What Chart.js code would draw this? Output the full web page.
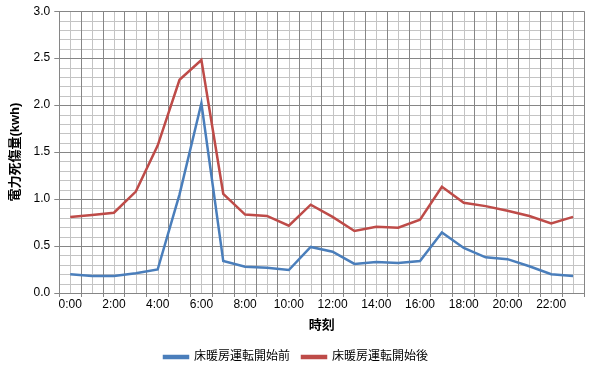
<!DOCTYPE html>
<html><head><meta charset="utf-8">
<script src="https://cdn.jsdelivr.net/npm/chart.js@4/dist/chart.umd.min.js"></script>
<style>html,body{margin:0;padding:0;background:#fff}#wrap{width:593px;height:375px}</style>
</head><body><div id="wrap"><canvas id="c" width="593" height="375"></canvas></div>
<script>
const hours = ["0:00","1:00","2:00","3:00","4:00","5:00","6:00","7:00","8:00","9:00","10:00","11:00","12:00","13:00","14:00","15:00","16:00","17:00","18:00","19:00","20:00","21:00","22:00","23:00"];
const before = [0.20,0.18,0.18,0.21,0.25,1.05,2.02,0.34,0.28,0.27,0.245,0.49,0.44,0.31,0.33,0.32,0.34,0.645,0.48,0.38,0.36,0.285,0.20,0.18];
const after  = [0.81,0.83,0.855,1.08,1.57,2.27,2.48,1.056,0.835,0.82,0.716,0.94,0.81,0.66,0.705,0.695,0.78,1.13,0.96,0.925,0.875,0.82,0.74,0.81];
const seriesNames = ["床暖房運転開始前","床暖房運転開始後"];
const yTitle = "電力死傷量(kwh)";
const xTitle = "時刻";

const FONT = "'Liberation Sans','Noto Sans CJK JP',sans-serif";

const minorGrid = {
  id: 'minorGrid',
  beforeDraw(chart) {
    const {ctx, chartArea: a, scales} = chart;
    const x = scales.x, y = scales.y;
    ctx.save();
    ctx.strokeStyle = '#c4c4c4';
    ctx.lineWidth = 1;
    ctx.beginPath();
    for (let i = 0; i < hours.length; i++) {
      const px = Math.round(x.getPixelForValue(i)) + 0.5;
      ctx.moveTo(px, a.top); ctx.lineTo(px, a.bottom);
    }
    for (let k = 1; k < 30; k++) {
      if (k % 5 === 0) continue;
      const py = Math.round(y.getPixelForValue(k / 10)) + 0.5;
      ctx.moveTo(a.left, py); ctx.lineTo(a.right, py);
    }
    ctx.stroke();
    ctx.restore();
  }
};

new Chart(document.getElementById('c'), {
  type: 'line',
  data: {
    labels: hours,
    datasets: [
      {label: seriesNames[0], data: before, borderColor: '#4a7ebb', backgroundColor: '#4a7ebb', borderWidth: 2.5, pointRadius: 0, tension: 0},
      {label: seriesNames[1], data: after, borderColor: '#be4b48', backgroundColor: '#be4b48', borderWidth: 2.5, pointRadius: 0, tension: 0}
    ]
  },
  options: {
    responsive: false,
    animation: false,
    layout: {padding: {left: 8, right: 9, top: 0, bottom: 2}},
    plugins: {
      legend: {
        position: 'bottom',
        labels: {boxWidth: 24, boxHeight: 2, padding: 12, color: '#000', font: {family: FONT, size: 12}}
      },
      tooltip: {enabled: false}
    },
    scales: {
      x: {
        offset: true,
        grid: {offset: true, color: '#868686', lineWidth: 1, tickLength: 4, drawTicks: true},
        border: {color: '#868686'},
        ticks: {autoSkip: false, maxRotation: 0, padding: 0, color: '#000', font: {family: FONT, size: 12},
          callback: (v, i) => (i % 2 === 0 ? hours[i] : '')},
        title: {display: true, text: xTitle, color: '#000', font: {family: FONT, size: 13, weight: 'bold'}, padding: {top: 6, bottom: 6}}
      },
      y: {
        min: 0, max: 3,
        grid: {color: '#868686', lineWidth: 1, tickLength: 5},
        border: {color: '#868686'},
        ticks: {stepSize: 0.5, padding: 4, color: '#000', font: {family: FONT, size: 12},
          callback: v => v.toFixed(1)},
        title: {display: true, text: yTitle, color: '#000', font: {family: FONT, size: 13, weight: 'bold'}, padding: {top: 0, bottom: 6}}
      }
    }
  },
  plugins: [minorGrid]
});
</script></body></html>
